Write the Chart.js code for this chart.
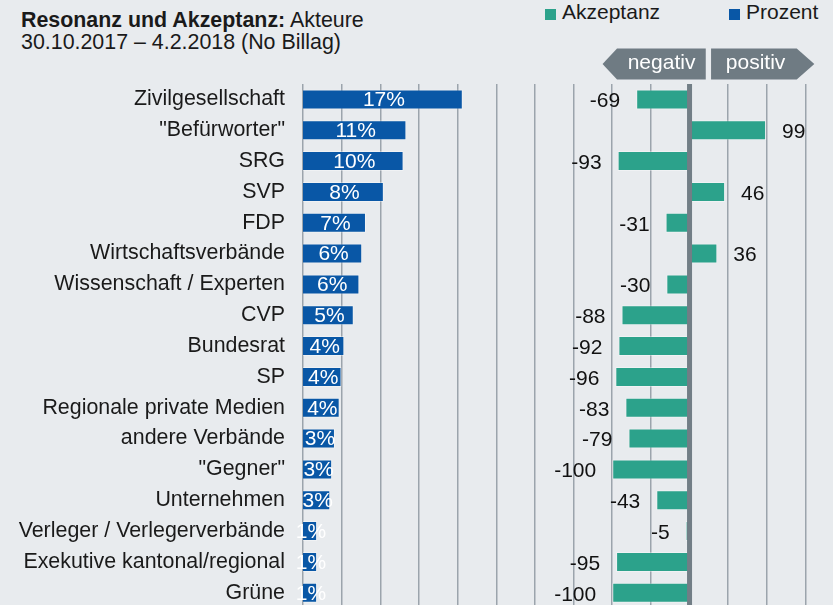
<!DOCTYPE html>
<html lang="de">
<head>
<meta charset="utf-8">
<title>Resonanz und Akzeptanz: Akteure</title>
<script src="https://cdn.jsdelivr.net/npm/chart.js@4/dist/chart.umd.min.js"></script>
<style>
    html, body { margin: 0; padding: 0; background: #e8ebee; overflow: hidden; }
    body { width: 833px; height: 605px; position: relative; font-family: "Liberation Sans", Arial, sans-serif; color: #1a1a1a; }
    .title { position: absolute; left: 21px; font-size: 21.4px; line-height: 24px; white-space: nowrap; }
    .legend { position: absolute; top: 0; font-size: 21px; line-height: 24px; white-space: nowrap; }
    .legend i { position: absolute; left: -17px; top: 9px; width: 11px; height: 11px; }
    #wrap { position: absolute; left: 0; top: 0; width: 833px; height: 605px; overflow: hidden; }
</style>
</head>
<body>
<div class="title" style="top: 8px;"><b>Resonanz und Akzeptanz:</b> Akteure</div>
<div class="title" style="top: 30px;">30.10.2017 – 4.2.2018 (No Billag)</div>
<div class="legend" style="left: 562px;"><i style="background: #2ca28b;"></i>Akzeptanz</div>
<div class="legend" style="left: 746px;"><i style="background: #0957a6;"></i>Prozent</div>
<!-- canvas is taller than the page: the last rows are cut off at the bottom like in the original -->
<div id="wrap"><canvas id="chart" width="833" height="639"></canvas></div>

<script>
// Akteure (top to bottom)
const actors = [
    "Zivilgesellschaft", "\"Befürworter\"", "SRG", "SVP", "FDP",
    "Wirtschaftsverbände", "Wissenschaft / Experten", "CVP", "Bundesrat", "SP",
    "Regionale private Medien", "andere Verbände", "\"Gegner\"", "Unternehmen",
    "Verleger / Verlegerverbände", "Exekutive kantonal/regional", "Grüne"
];

// Share of coverage (bar length) and the printed label
const prozent = [17.0, 11.0, 10.7, 8.6, 6.7, 6.3, 6.0, 5.4, 4.4, 4.1, 3.9, 3.4, 3.1, 2.9, 1.5, 1.5, 1.5];
const prozentText = ["17%", "11%", "10%", "8%", "7%", "6%", "6%", "5%", "4%", "4%", "4%", "3%", "3%", "3%", "1%", "1%", "1%"];

// Acceptance index (-100 .. 100)
const akzeptanz = [-69, 99, -93, 46, -31, 36, -30, -88, -92, -96, -83, -79, -100, -43, -5, -95, -100];

const GREEN = "#2ca28b";
const BLUE = "#0957a6";
const GREY = "#727e86";
const FONT = "\"Liberation Sans\", Arial, sans-serif";

// Draws the zero line, the value labels and the negativ / positiv badges
const overlayPlugin = {
    id: "overlay",
    afterDatasetsDraw(chart) {
        const ctx = chart.ctx;
        const area = chart.chartArea;
        const zero = chart.scales.x2.getPixelForValue(0);

        ctx.save();

        // Zero line over the bars
        ctx.fillStyle = GREY;
        ctx.fillRect(zero - 2.5, area.top, 5, area.bottom - area.top);

        ctx.font = `21px ${FONT}`;
        ctx.textBaseline = "middle";

        // Prozent labels, centred in the bars
        ctx.fillStyle = "#ffffff";
        ctx.textAlign = "center";
        chart.getDatasetMeta(0).data.forEach((bar, i) => {
            ctx.fillText(prozentText[i], (bar.x + bar.base) / 2 + 1, bar.y + 1);
        });

        // Akzeptanz labels, outside the bar end
        ctx.fillStyle = "#111111";
        chart.getDatasetMeta(1).data.forEach((bar, i) => {
            const v = akzeptanz[i];
            if (v < 0) {
                ctx.textAlign = "right";
                ctx.fillText(String(v), bar.x - 16, bar.y + 2);
            } else {
                ctx.textAlign = "left";
                ctx.fillText(String(v), bar.x + 16, bar.y + 2);
            }
        });

        // negativ / positiv badges above the zero line
        const top = area.top - 35.5, bottom = area.top - 4.5, mid = (top + bottom) / 2;
        ctx.fillStyle = "#6f7b83";
        ctx.beginPath();
        ctx.moveTo(zero - 87, mid);
        ctx.lineTo(zero - 72.5, top);
        ctx.lineTo(zero + 16.2, top);
        ctx.lineTo(zero + 16.2, bottom);
        ctx.lineTo(zero - 72.5, bottom);
        ctx.closePath();
        ctx.fill();
        ctx.beginPath();
        ctx.moveTo(zero + 21.5, top);
        ctx.lineTo(zero + 107.2, top);
        ctx.lineTo(zero + 124.8, mid);
        ctx.lineTo(zero + 107.2, bottom);
        ctx.lineTo(zero + 21.5, bottom);
        ctx.closePath();
        ctx.fill();

        ctx.fillStyle = "#ffffff";
        ctx.textAlign = "center";
        ctx.textBaseline = "alphabetic";
        ctx.fillText("negativ", zero - 28, top + 20);
        ctx.fillText("positiv", zero + 66, top + 20);

        ctx.restore();
    }
};

new Chart(document.getElementById("chart"), {
    type: "bar",
    data: {
        labels: actors,
        datasets: [{
            label: "Prozent",
            data: prozent,
            xAxisID: "x",
            backgroundColor: BLUE,
            borderColor: "rgba(255,255,255,0.35)",
            borderWidth: 1,
            grouped: false,
            barPercentage: 0.65,
            categoryPercentage: 1
        }, {
            label: "Akzeptanz",
            data: akzeptanz,
            xAxisID: "x2",
            backgroundColor: GREEN,
            borderColor: "rgba(255,255,255,0.35)",
            borderWidth: 1,
            grouped: false,
            barPercentage: 0.65,
            categoryPercentage: 1
        }]
    },
    options: {
        indexAxis: "y",
        responsive: false,
        animation: false,
        layout: { padding: { top: 84, right: 27.5, bottom: 0, left: 0 } },
        plugins: {
            legend: { display: false },
            tooltip: { enabled: false }
        },
        scales: {
            y: {
                grid: { display: false, drawTicks: false },
                border: { display: false },
                ticks: { color: "#1a1a1a", padding: 18, font: { family: FONT, size: 21.4 } },
                afterFit: s => { s.width = 303; }
            },
            x: {
                display: false,
                min: 0,
                max: 53.46
            },
            x2: {
                position: "bottom",
                min: -500,
                max: 150,
                grid: { color: "#9ba4ac", lineWidth: 1.5, drawTicks: false },
                border: { display: false },
                ticks: { display: false, stepSize: 50 },
                afterFit: s => { s.height = 0; }
            }
        }
    },
    plugins: [overlayPlugin]
});
</script>
</body>
</html>
